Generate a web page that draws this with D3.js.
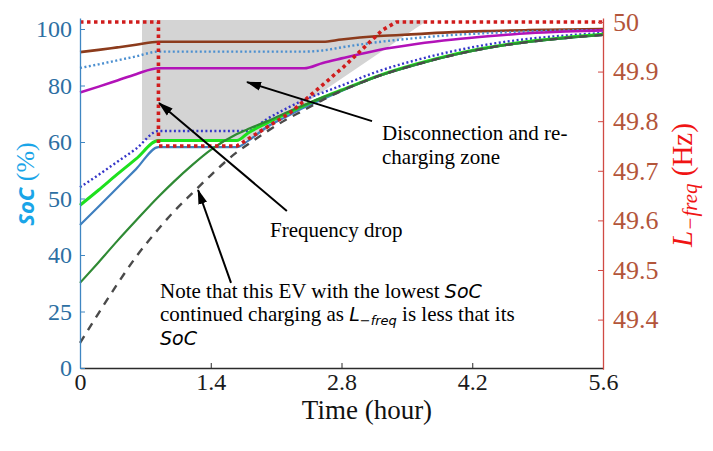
<!DOCTYPE html>
<html>
<head>
<meta charset="utf-8">
<script src="https://cdn.jsdelivr.net/npm/d3@7"></script>
<style>
  body { margin: 0; background: #fff; }
  svg { display: block; }
</style>
</head>
<body>
<svg id="chart" width="713" height="451"></svg>
<script>
// ---- data -------------------------------------------------------------
// common time grid (hours) for every EV state-of-charge trace
const timeGrid = [0, 0.2, 0.4, 0.6, 0.84, 1.0, 1.2, 1.4, 1.68, 1.8, 2.0, 2.2, 2.4, 2.6, 2.8, 3.2, 3.6, 4.0, 4.4, 4.8, 5.2, 5.6];

// SoC (%) of each EV on the grid above
const socBrown     = [91.8, 92.6, 93.5, 94.4, 95.5, 95.5, 95.5, 95.5, 95.5, 95.5, 95.5, 95.5, 95.5, 95.5, 96.3, 97.5, 98.2, 98.9, 99.3, 99.6, 99.8, 100];
const socSkyDotted = [86.2, 87.5, 88.9, 90.3, 92.0, 92.0, 92.0, 92.0, 92.0, 92.0, 92.0, 92.0, 92.0, 92.4, 93.5, 95.4, 96.8, 97.9, 98.6, 99.1, 99.5, 99.6];
const socMagenta   = [77.5, 79.6, 81.8, 84.0, 86.1, 86.1, 86.1, 86.1, 86.1, 86.1, 86.1, 86.1, 86.1, 88.0, 89.6, 92.6, 94.7, 96.3, 97.5, 98.5, 99.1, 99.5];
const socNavyDotted= [52.0, 54.2, 56.5, 58.8, 63.9, 63.9, 63.9, 63.9, 63.9, 63.9, 68.1, 71.7, 74.9, 77.5, 80.0, 85.1, 89.0, 92.2, 94.7, 96.5, 97.7, 98.6];
const socBlue      = [45.3, 48.6, 51.9, 55.2, 59.1, 59.1, 59.1, 59.1, 59.1, 60.4, 65.3, 68.8, 72.2, 75.2, 78.1, 83.4, 87.4, 90.8, 93.5, 95.4, 96.8, 97.9];
const socGreen     = [48.8, 51.5, 54.3, 57.0, 60.5, 60.5, 60.5, 60.5, 60.5, 63.2, 66.7, 69.9, 72.9, 75.8, 78.4, 83.5, 87.6, 91.0, 93.6, 95.6, 97.0, 98.1];
const socDarkGreen = [32.6, 38.1, 42.5, 46.1, 50.3, 52.9, 55.9, 58.6, 62.8, 64.6, 67.3, 70.3, 73.1, 75.8, 78.2, 83.4, 87.4, 90.8, 93.5, 95.4, 96.8, 97.9];
const socDashed    = [11.1, 24.3, 32.3, 39.5, 44.6, 47.6, 50.9, 54.1, 58.2, 59.6, 63.7, 67.8, 71.3, 74.9, 78.1, 83.4, 87.4, 90.8, 93.5, 95.4, 96.8, 97.9];

// grid frequency limit L_freq (Hz)
const freqTime = [0, 0.84, 0.84, 1.68, 2.25, 2.82, 3.24, 3.39, 5.6];
const freqHz   = [50, 50, 49.75, 49.75, 49.817, 49.909, 49.984, 50, 50];

// disconnection and re-charging zone outline (time h, SoC %)
const zoneTime = [0.664, 3.726, 1.83, 0.664];
const zoneSoC  = [103.2, 103.2, 60.7, 60.7];

// axis ticks
const timeTicks = [0, 1.4, 2.8, 4.2, 5.6];
const socTicks  = [0, 25, 40, 50, 60, 80, 100];
const freqTicks = [49.4, 49.5, 49.6, 49.7, 49.8, 49.9, 50];

// ---- scales -----------------------------------------------------------
const svg = d3.select("#chart");
const x  = d3.scaleLinear().domain([0, 5.6]).range([80, 603]);
// SoC axis: tick labels are evenly spaced, so the scale is piecewise linear
const y  = d3.scaleLinear()
  .domain([0, 25, 40, 50, 60, 80, 100, 103.9])
  .range([368, 311.5, 255, 198.5, 142, 85.5, 29, 18]);
const yF = d3.scaleLinear().domain([49.3, 50.008]).range([369.2, 18]);

const serif = "'Liberation Serif', 'Times New Roman', serif";
const mathFont = "'DejaVu Sans', sans-serif";

// ---- shaded zone ------------------------------------------------------
svg.append("path")
  .datum(zoneTime.map((t, i) => [t, zoneSoC[i]]))
  .attr("d", d3.line().x(d => x(d[0])).y(d => y(d[1])))
  .attr("fill", "#d4d4d4")
  .attr("stroke", "none");

// ---- SoC traces -------------------------------------------------------
const traces = [
  { v: socBrown,      color: "#8c3b1c", w: 2.6, dash: null },
  { v: socSkyDotted,  color: "#4b8fd0", w: 2.4, dash: "2,2.5" },
  { v: socMagenta,    color: "#b212b8", w: 2.6, dash: null },
  { v: socNavyDotted, color: "#3535c8", w: 2.4, dash: "2,2.5" },
  { v: socBlue,       color: "#3f7fbf", w: 2.2, dash: null },
  { v: socGreen,      color: "#1ee01e", w: 3.0, dash: null },
  { v: socDarkGreen,  color: "#2f8a34", w: 2.2, dash: null },
  { v: socDashed,     color: "#4a4a4a", w: 2.4, dash: "8,7" }
];

const socLine = d3.line()
  .x((d, i) => x(timeGrid[i]))
  .y(d => y(d))
  .curve(d3.curveMonotoneX);

svg.append("g").selectAll("path")
  .data(traces)
  .join("path")
  .attr("d", d => socLine(d.v))
  .attr("fill", "none")
  .attr("stroke", d => d.color)
  .attr("stroke-width", d => d.w)
  .attr("stroke-dasharray", d => d.dash);

// ---- frequency limit --------------------------------------------------
svg.append("path")
  .datum(freqTime.map((t, i) => [t, freqHz[i]]))
  .attr("d", d3.line().x(d => x(d[0])).y(d => yF(d[1])))
  .attr("fill", "none")
  .attr("stroke", "#d01c1c")
  .attr("stroke-width", 3.6)
  .attr("stroke-dasharray", "3.5,3.5");

// ---- axes -------------------------------------------------------------
function styleAxis(g, lineColor, textColor, size) {
  g.attr("font-family", serif).attr("font-size", size);
  g.select(".domain").attr("stroke", lineColor).attr("stroke-width", 1.3);
  g.selectAll(".tick line").attr("stroke", lineColor);
  g.selectAll(".tick text")
    .attr("fill", textColor)
    .style("font-family", serif)
    .style("font-size", size + "px");
}

const xAxis = svg.append("g")
  .attr("transform", "translate(0,368)")
  .call(d3.axisBottom(x).tickValues(timeTicks).tickFormat(d3.format("")).tickSizeInner(-5).tickSizeOuter(0).tickPadding(5));
styleAxis(xAxis, "#2b2b2b", "#1a1a1a", 24);

const yAxis = svg.append("g")
  .attr("transform", "translate(80,0)")
  .call(d3.axisLeft(y).tickValues(socTicks).tickFormat(d3.format("")).tickSizeInner(-5).tickSizeOuter(0).tickPadding(8));
styleAxis(yAxis, "#3f86c2", "#2d6fa3", 24);

const fAxis = svg.append("g")
  .attr("transform", "translate(603,0)")
  .call(d3.axisRight(yF).tickValues(freqTicks).tickFormat(d3.format("")).tickSizeInner(-5).tickSizeOuter(0).tickPadding(10));
styleAxis(fAxis, "#d04a44", "#b3553a", 26);

// ---- axis titles ------------------------------------------------------
svg.append("text")
  .attr("x", 367).attr("y", 419)
  .attr("text-anchor", "middle")
  .style("font-family", serif).style("font-size", "27px").attr("fill", "#111")
  .text("Time (hour)");

const socTitle = svg.append("text")
  .attr("transform", "translate(34,184) rotate(-90)")
  .attr("text-anchor", "middle")
  .attr("fill", "#1aa5e8");
socTitle.append("tspan").style("font-family", "'Noto Sans', sans-serif").style("font-weight", "bold")
  .style("font-style", "italic").style("font-size", "22px").text("SoC");
socTitle.append("tspan").style("font-family", serif).style("font-size", "26px").text(" (%)");

const freqTitle = svg.append("text")
  .attr("transform", "translate(692,185) rotate(-90)")
  .attr("text-anchor", "middle")
  .attr("fill", "#f01414");
freqTitle.append("tspan").style("font-family", serif).style("font-style", "italic").style("font-size", "29px").text("L");
freqTitle.append("tspan").style("font-family", serif).style("font-style", "italic").style("font-size", "21px").attr("dy", 5).text("−freq");
freqTitle.append("tspan").style("font-family", serif).style("font-size", "29px").attr("dy", -5).text(" (Hz)");

// ---- annotations ------------------------------------------------------
const defs = svg.append("defs");
defs.append("marker")
  .attr("id", "head")
  .attr("markerUnits", "userSpaceOnUse")
  .attr("viewBox", "0 0 15 10")
  .attr("markerWidth", 15).attr("markerHeight", 10)
  .attr("refX", 14).attr("refY", 5)
  .attr("orient", "auto")
  .append("path").attr("d", "M0,0.5 L15,5 L0,9.5 Z").attr("fill", "#000");

// arrows: [tail time, tail SoC, tip time, tip SoC]
const arrows = [
  [3.127, 67.4, 1.788, 81.2],
  [2.215, 47.8, 0.846, 73.8],
  [1.617, 32.6, 1.264, 51.5]
];
svg.append("g").selectAll("line")
  .data(arrows)
  .join("line")
  .attr("x1", d => x(d[0])).attr("y1", d => y(d[1]))
  .attr("x2", d => x(d[2])).attr("y2", d => y(d[3]))
  .attr("stroke", "#000").attr("stroke-width", 2)
  .attr("marker-end", "url(#head)");

const note = svg.append("g").style("font-family", serif).style("font-size", "21px").attr("fill", "#000");
note.append("text").attr("x", 382).attr("y", 140).text("Disconnection and re-");
note.append("text").attr("x", 382).attr("y", 164).text("charging zone");
note.append("text").attr("x", 270).attr("y", 237).text("Frequency drop");

const n1 = note.append("text").attr("x", 160).attr("y", 297.5);
n1.append("tspan").text("Note that this EV with the lowest ");
n1.append("tspan").style("font-family", mathFont).style("font-style", "italic").style("font-size", "19px").text("SoC");
const n2 = note.append("text").attr("x", 160).attr("y", 321);
n2.append("tspan").text("continued charging as ");
n2.append("tspan").style("font-family", mathFont).style("font-style", "italic").style("font-size", "19px").text("L");
n2.append("tspan").style("font-family", mathFont).style("font-style", "italic").style("font-size", "13px").attr("dy", 4).text("−freq");
n2.append("tspan").attr("dy", -4).text(" is less that its");
note.append("text").attr("x", 160).attr("y", 345)
  .style("font-family", mathFont).style("font-style", "italic").style("font-size", "19px").text("SoC");
</script>
</body>
</html>
